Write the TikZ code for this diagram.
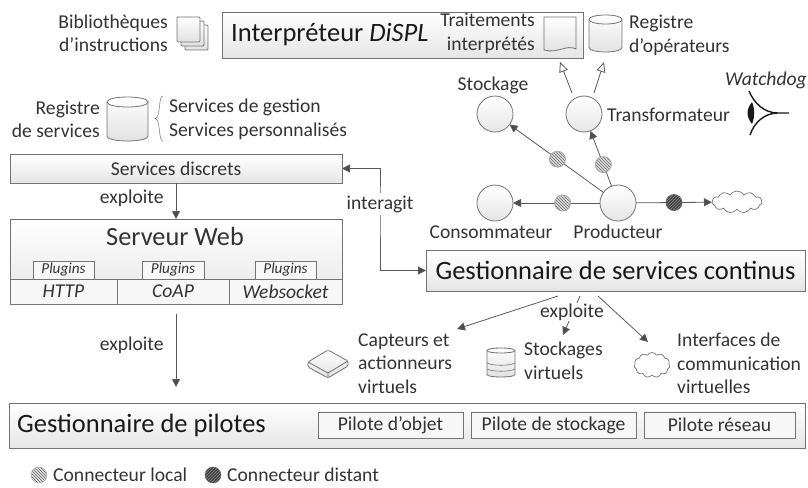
\documentclass[tikz,border=0pt]{standalone}
\usepackage{fontspec}
\setmainfont{Carlito}
\usetikzlibrary{arrows.meta,calc,patterns,positioning,shapes.geometric,shapes.symbols}
\tikzset{
  box/.style={draw=black!55,line width=.9pt,top color=white,bottom color=black!10,inner sep=0,outer sep=0,anchor=north west},
  plainbox/.style={draw=black!55,line width=.8pt,fill=black!3,inner sep=0,outer sep=0,anchor=north west},
  lbl/.style={inner sep=0,text=black!80,font=\fontsize{19.6}{23.5}\selectfont},
  biglbl/.style={inner sep=0,text=black!90,font=\fontsize{26.5}{28}\selectfont},
  place/.style={circle,draw=black!55,line width=.8pt,top color=white,bottom color=black!10,minimum size=36pt,inner sep=0,outer sep=0},
  icon/.style={draw=black!55,line width=.8pt,top color=white,bottom color=black!12},
  flow/.style={draw=black!65,line width=.8pt,-{Triangle[length=8pt,width=8pt,fill=black!70]}},
  openflow/.style={draw=black!65,line width=.8pt,-{Triangle[open,length=10pt,width=9pt,fill=white]}},
  localcon/.style={circle,draw=black!35,inner sep=0,minimum size=16pt,preaction={fill=black!12},pattern=north west lines,pattern color=black!60},
  distcon/.style={circle,draw=black!60,inner sep=0,minimum size=16pt,preaction={fill=black!75},pattern=north east lines,pattern color=black!45},
  nuage/.style={cloud,cloud puffs=11,cloud puff arc=120,aspect=2.2,draw=black!55,line width=.7pt,fill=white,inner sep=0,outer sep=0}
}
\newcommand{\cylindre}[5]{%
  \draw[icon] (#1,#2+#5) -- (#1,#2+#4-#5)
    .. controls (#1,#2+#4+#5/3) and (#1+#3,#2+#4+#5/3) .. (#1+#3,#2+#4-#5) -- (#1+#3,#2+#5)
    .. controls (#1+#3,#2-#5/3) and (#1,#2-#5/3) .. cycle;
  \draw[draw=black!55,line width=.8pt] (#1,#2+#5) .. controls (#1,#2+#5*7/3) and (#1+#3,#2+#5*7/3) .. (#1+#3,#2+#5);}

\begin{document}
\begin{tikzpicture}[x=1pt,y=-1pt]
  \useasboundingbox (0,0) rectangle (808,487);
  % draw interpreter row
  \node[box,minimum width=361pt,minimum height=46pt] (interpreteur) at (222,12) {};
  \node[biglbl,anchor=west] (interpreteurlbl) at (231,35) {Interpréteur \textit{DiSPL}};
  \node[lbl,anchor=east,align=right] (biblio) at (168,33.5) {Bibliothèques\\d’instructions};
  \foreach \d in {8,4,0} {
    \draw[icon,rounded corners=1pt] (177+\d,17+\d) rectangle ++(23,25);
  }
  \node[lbl,anchor=east,align=right] (traitements) at (535,33.5) {Traitements\\interprétés};
  \draw[icon] (544,17) -- (576,17) -- (576,49) .. controls (566,44) and (558,54) .. (544,50) -- cycle;
  \cylindre{589}{15}{33}{37}{4.5}
  \node[lbl,anchor=west,align=left] (regop) at (629,35.5) {Registre\\d’opérateurs};
  % draw operator graph
  \node[place] (stockage) at (495,114) {};
  \node[place] (transformateur) at (584,114) {};
  \node[place] (consommateur) at (495,203) {};
  \node[place] (producteur) at (618,203) {};
  \node[nuage,minimum width=50pt,minimum height=22pt] (sortie) at (737,202) {};
  \node[lbl] (stockagelbl) at (493,85) {Stockage};
  \node[lbl,anchor=west] (transfolbl) at (607,115) {Transformateur};
  \node[lbl] (consolbl) at (491,232) {Consommateur};
  \node[lbl] (prodlbl) at (618,232) {Producteur};
  \draw[flow] (producteur) -- node[localcon,pos=.49] (c1) {} (stockage);
  \draw[flow] (producteur) -- node[localcon,pos=.39] (c2) {} (transformateur);
  \draw[flow] (producteur) -- node[localcon,pos=.43] (c3) {} (consommateur);
  \draw[flow] (producteur) -- node[distcon,pos=.5] (c4) {} (sortie);
  \coordinate (t1) at (572,93);
  \coordinate (i1) at (560,62);
  \coordinate (t2) at (594,93);
  \coordinate (i2) at (604,62);
  \draw[openflow] (t1) -- (i1);
  \draw[openflow] (t2) -- (i2);
  % draw watchdog
  \node[lbl,anchor=west,font=\fontsize{19.6}{20}\selectfont\itshape] (watchdog) at (725,80) {Watchdog};
  \draw[black!90,line width=1.4pt] (749,91) .. controls (754,103) and (764,113) .. (778,113) -- (789,113)
    (750,135) .. controls (754,123) and (764,113) .. (778,113);
  \fill[black!90] (752,102) .. controls (746,110) and (746,116) .. (752,124) .. controls (755,116) and (755,110) .. cycle;
  % draw services column
  \node[lbl,anchor=east,align=right] (regserv) at (100,119.5) {Registre\\de services};
  \cylindre{107}{97}{41}{44}{5}
  \draw[draw=black!50,line width=.6pt] (163,96) .. controls (158,96) and (161,118) .. (155,118.5)
    .. controls (161,119) and (158,141) .. (163,141);
  \node[lbl,anchor=west,align=left] (typesserv) at (169,119.5) {Services de gestion\\Services personnalisés};
  \node[box,minimum width=332pt,minimum height=29pt] (discrets) at (10,154) {};
  \node[lbl] at (discrets.center) {Services discrets};
  \node[box,minimum width=332pt,minimum height=85pt] (serveur) at (10,219) {};
  \node[lbl,font=\fontsize{26.3}{27}\selectfont] (serveurlbl) at (175,236) {Serveur Web};
  \foreach \x/\w/\n in {33/61/p1,142/62/p2,255/61/p3} {
    \node[plainbox,minimum width=\w pt,minimum height=18pt] (\n) at (\x,261) {};
    \node[lbl,font=\fontsize{15.2}{16}\selectfont\itshape] at (\n.center) {Plugins};
  }
  \foreach \x/\w/\t/\n in {10/107/HTTP/http,117/112/CoAP/coap,229/113/Websocket/ws} {
    \node[plainbox,minimum width=\w pt,minimum height=25pt] (\n) at (\x,279) {};
    \node[lbl,font=\fontsize{19.6}{20}\selectfont\itshape] at (\n.center) {\t};
  }
  \draw[flow] (discrets.south) -- node[lbl,anchor=east,pos=.42,xshift=-12pt] (exploite1) {exploite} (serveur.north);
  % draw drivers
  \node[box,minimum width=796pt,minimum height=45pt] (pilotes) at (9,403) {};
  \node[biglbl,anchor=west] (piloteslbl) at (17,425) {Gestionnaire de pilotes};
  \foreach \x/\w/\t/\n in {318/145/{Pilote d’objet}/po,471/165/{Pilote de stockage}/ps,644/151/{Pilote réseau}/pr} {
    \node[plainbox,minimum width=\w pt,minimum height=25.5pt] (\n) at (\x,412.5) {};
    \node[lbl] at (\n.center) {\t};
  }
  \draw[flow,shorten <=10pt,shorten >=16pt] (serveur.south) -- node[lbl,anchor=east,pos=.42,xshift=-12pt] (exploite2) {exploite} (serveur.south |- pilotes.north);
  % draw continuous services manager
  \node[box,minimum width=379pt,minimum height=41pt] (continus) at (426,250) {};
  \node[biglbl] (continuslbl) at (continus.center) {Gestionnaire de services continus};
  \coordinate (coude) at (380,204);
  \draw[flow,{Triangle[length=8pt,width=8pt,fill=black!70]}-{Triangle[length=8pt,width=8pt,fill=black!70]}] (discrets.east) -| (coude) |- (continus.west);
  \node[lbl,fill=white,inner ysep=3pt] (interagit) at (coude) {interagit};
  % draw virtual resources
  \coordinate (d1) at (558,296);
  \coordinate (a1) at (457,329);
  \coordinate (d2) at (580,296);
  \coordinate (a2) at (563,335);
  \coordinate (d3) at (598,296);
  \coordinate (a3) at (648,342);
  \draw[flow] (d1) -- (a1);
  \draw[flow] (d2) -- (a2);
  \draw[flow] (d3) -- (a3);
  \node[lbl,fill=white,inner ysep=1pt] (exploite3) at (572,312) {exploite};
  \node[lbl,anchor=west,align=left] (capteurs) at (358,363.5) {Capteurs et\\actionneurs\\virtuels};
  \node[lbl,anchor=west,align=left] (stockvirt) at (524,361) {Stockages\\virtuels};
  \node[lbl,anchor=west,align=left] (interfaces) at (677,363.5) {Interfaces de\\communication\\virtuelles};
  \draw[icon,rounded corners=1.5pt] (308,362) -- (328,350) -- (348,361) -- (348,366) -- (328,378) -- (308,367) -- cycle;
  \draw[draw=black!55,line width=.8pt] (308,362) -- (328,373) -- (348,361) (328,373) -- (328,378);
  \cylindre{487}{348}{28}{29}{2.5}
  \draw[draw=black!55,line width=.6pt] (487,363) .. controls (492,366) and (510,366) .. (515,363)
    (487,369) .. controls (492,372) and (510,372) .. (515,369);
  \node[nuage,minimum width=36pt,minimum height=25pt] (nuagevirt) at (652,365) {};
  % draw legend
  \node[localcon] (leglocal) at (39,475) {};
  \node[lbl,anchor=west] (leglocallbl) at (53,475) {Connecteur local};
  \node[distcon] (legdist) at (213,475) {};
  \node[lbl,anchor=west] (legdistlbl) at (227,475) {Connecteur distant};
\end{tikzpicture}
\end{document}
